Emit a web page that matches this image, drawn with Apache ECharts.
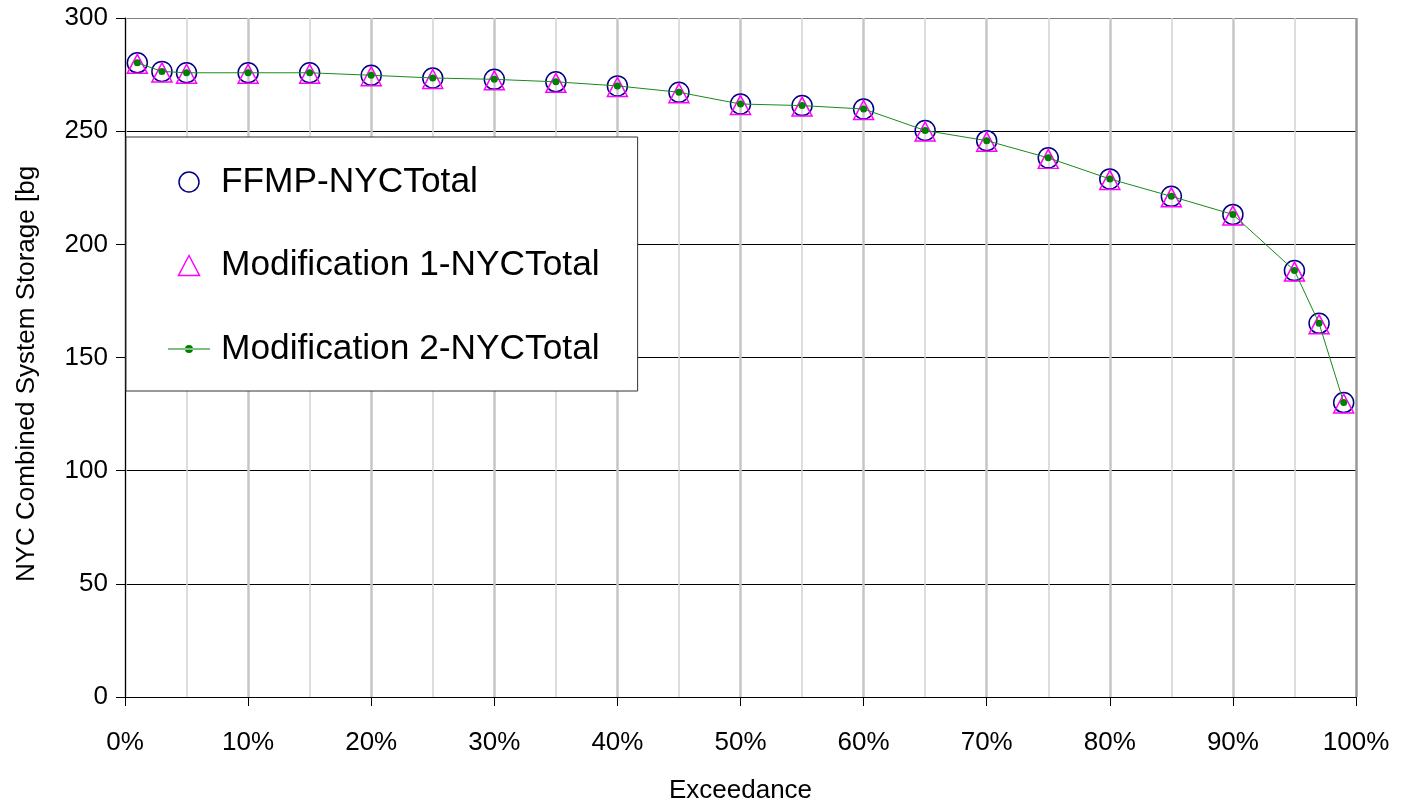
<!DOCTYPE html>
<html>
<head>
<meta charset="utf-8">
<script src="https://cdn.jsdelivr.net/npm/echarts@6/dist/echarts.min.js"></script>
<style>
  html, body { margin: 0; padding: 0; background: #fff; }
  #chart { width: 1401px; height: 805px; }
</style>
</head>
<body>
<div id="chart"></div>
<script>
// Exceedance probability (%)
var exceedance = [1, 3, 5, 10, 15, 20, 25, 30, 35, 40, 45, 50, 55, 60, 65, 70, 75, 80, 85, 90, 95, 97, 99];
// NYC combined system storage [bg]
var ffmpNYCTotal = [280.2, 276.4, 275.8, 275.8, 275.8, 274.7, 273.5, 272.9, 271.8, 270.0, 267.2, 262.0, 261.3, 259.8, 250.3, 245.8, 238.2, 228.9, 221.2, 213.2, 188.4, 165.1, 130.1];
var mod1NYCTotal = [280.2, 276.4, 275.8, 275.8, 275.8, 274.7, 273.5, 272.9, 271.8, 270.0, 267.2, 262.0, 261.3, 259.8, 250.3, 245.8, 238.2, 228.9, 221.2, 213.2, 188.4, 165.1, 130.1];
var mod2NYCTotal = [280.2, 276.4, 275.8, 275.8, 275.8, 274.7, 273.5, 272.9, 271.8, 270.0, 267.2, 262.0, 261.3, 259.8, 250.3, 245.8, 238.2, 228.9, 221.2, 213.2, 188.4, 165.1, 130.1];
var seriesNames = ['FFMP-NYCTotal', 'Modification 1-NYCTotal', 'Modification 2-NYCTotal'];
var xAxisName = 'Exceedance';
var yAxisName = 'NYC Combined System Storage [bg';

function pairs(xs, ys) {
  return xs.map(function (x, i) { return [x, ys[i]]; });
}

var FONT = "'Liberation Sans', Arial, sans-serif";
var chart = echarts.init(document.getElementById('chart'), null, { renderer: 'canvas' });

var option = {
  animation: false,
  backgroundColor: '#ffffff',
  textStyle: { fontFamily: FONT, color: '#000' },
  grid: { left: 125, right: 45, top: 18, bottom: 108, containLabel: false, outerBoundsMode: 'none' },
  xAxis: {
    type: 'value',
    min: 0, max: 100, interval: 10,
    name: xAxisName,
    nameLocation: 'middle',
    nameGap: 81,
    nameTextStyle: { fontFamily: FONT, fontSize: 26, color: '#000' },
    axisLine: { show: true, onZero: false, lineStyle: { color: '#000', width: 1 } },
    axisTick: { show: true, length: 9, lineStyle: { color: '#000', width: 1 } },
    axisLabel: { formatter: '{value}%', fontFamily: FONT, fontSize: 26, color: '#000', margin: 33 },
    splitLine: { show: true, lineStyle: { color: ['#c6c6c6','#c6c6c6','#c6c6c6','#c6c6c6','#c6c6c6','#c6c6c6','#c6c6c6','#c6c6c6','#c6c6c6','#c6c6c6','#999999'], width: 2.5 } },
    minorTick: { show: false, splitNumber: 2 },
    minorSplitLine: { show: true, lineStyle: { color: '#d2d2d2', width: 1.5 } }
  },
  yAxis: {
    type: 'value',
    min: 0, max: 300, interval: 50,
    name: yAxisName,
    nameLocation: 'middle',
    nameGap: 85,
    nameRotate: 90,
    nameTextStyle: { fontFamily: FONT, fontSize: 26, color: '#000', padding: [0, 33, 0, 0] },
    axisLine: { show: true, lineStyle: { color: '#000', width: 1 } },
    axisTick: { show: true, length: 9, lineStyle: { color: '#000', width: 1 } },
    axisLabel: { fontFamily: FONT, fontSize: 26, color: '#000', margin: 17 },
    splitLine: { show: true, lineStyle: { color: ['#000','#000','#000','#000','#000','#000','#808080'], width: 1 } }
  },
  legend: {
    orient: 'vertical',
    left: 126, top: 137,
    padding: [27, 38, 24, 42],
    itemGap: 47.5,
    itemWidth: 42,
    itemHeight: 20,
    backgroundColor: '#ffffff',
    borderColor: '#333333',
    borderWidth: 1,
    z: 10,
    textStyle: { fontFamily: FONT, fontSize: 35.3, color: '#000', lineHeight: 36, padding: [0, 0, 0, 6] },
    data: [
      { name: seriesNames[0], icon: 'circle', itemStyle: { color: 'rgba(0,0,0,0)', borderColor: '#000080', borderWidth: 1.5 } },
      { name: seriesNames[1], icon: 'path://M10,0L20,19L0,19Z', itemStyle: { color: 'rgba(0,0,0,0)', borderColor: '#ff00ff', borderWidth: 1.5 } },
      { name: seriesNames[2], icon: 'path://M0,9.5H42V10.5H0Z M17,10A4,4,0,1,0,25,10A4,4,0,1,0,17,10Z', itemStyle: { color: '#008000', borderWidth: 0 } }
    ]
  },
  series: [
    {
      name: seriesNames[0],
      type: 'scatter',
      data: pairs(exceedance, ffmpNYCTotal),
      symbol: 'circle',
      symbolSize: 20,
      itemStyle: { color: 'rgba(0,0,0,0)', borderColor: '#000080', borderWidth: 1.5, opacity: 1 },
      emphasis: { disabled: true },
      z: 3
    },
    {
      name: seriesNames[1],
      type: 'scatter',
      data: pairs(exceedance, mod1NYCTotal),
      symbol: 'triangle',
      symbolSize: [20, 19],
      symbolOffset: [0, 1],
      itemStyle: { color: 'rgba(0,0,0,0)', borderColor: '#ff00ff', borderWidth: 1.5, opacity: 1 },
      emphasis: { disabled: true },
      z: 4
    },
    {
      name: seriesNames[2],
      type: 'line',
      data: pairs(exceedance, mod2NYCTotal),
      symbol: 'circle',
      symbolSize: 7,
      showSymbol: true,
      lineStyle: { color: '#1a8a1a', width: 1 },
      itemStyle: { color: '#008000', borderWidth: 0 },
      emphasis: { disabled: true },
      z: 5
    }
  ]
};
chart.setOption(option);
</script>
</body>
</html>
